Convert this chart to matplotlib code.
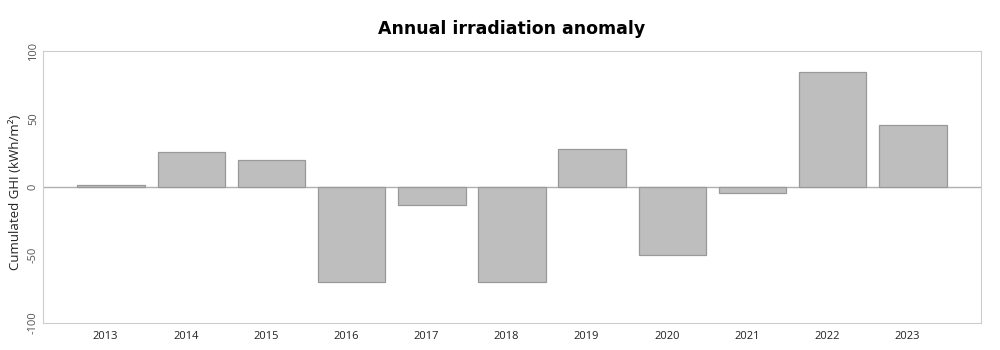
import matplotlib
matplotlib.use('Agg')
import matplotlib.pyplot as plt

years = ['2013', '2014', '2015', '2016', '2017', '2018', '2019', '2020', '2021', '2022', '2023']
anomaly = [1.5, 26, 20, -70, -13.5, -70, 28, -50, -4, 84.5, 46]
yticks = [-100, -50, 0, 50, 100]

plt.rcParams['font.family'] = ['Open Sans', 'DejaVu Sans']

fig = plt.figure(figsize=(10, 3.5), dpi=100)
ax = fig.add_axes([0.043, 0.077, 0.938, 0.777])

x = list(range(len(years)))
ax.bar(x, anomaly, width=0.84, color='#bebebe', edgecolor='#999999', linewidth=0.9, zorder=2)
ax.axhline(0, color='#b0b0b0', linewidth=1, zorder=1)

ax.set_xlim(-0.85, len(years) - 0.15)
ax.set_ylim(-100, 100)
# year labels sit slightly left of the bar centres in the original
ax.set_xticks([i - 0.07 for i in x])
ax.set_xticklabels(years, fontsize=8, color='#222222')
ax.set_yticks(yticks)
ax.set_yticklabels([str(v) for v in yticks], fontsize=8, color='#555555', rotation=90, va='center')
ax.tick_params(axis='x', length=0, pad=6)
ax.tick_params(axis='y', length=0, pad=3)
ax.set_ylabel('Cumulated GHI (kWh/m²)', fontsize=9.5, color='#222222')
ax.yaxis.set_label_coords(-0.022, 0.48)
for s in ax.spines.values():
    s.set_color('#cccccc')
ax.set_title('Annual irradiation anomaly', fontsize=12.5, fontweight='bold', pad=12,
             family='DejaVu Sans')

fig.savefig('out.png', dpi=100)
